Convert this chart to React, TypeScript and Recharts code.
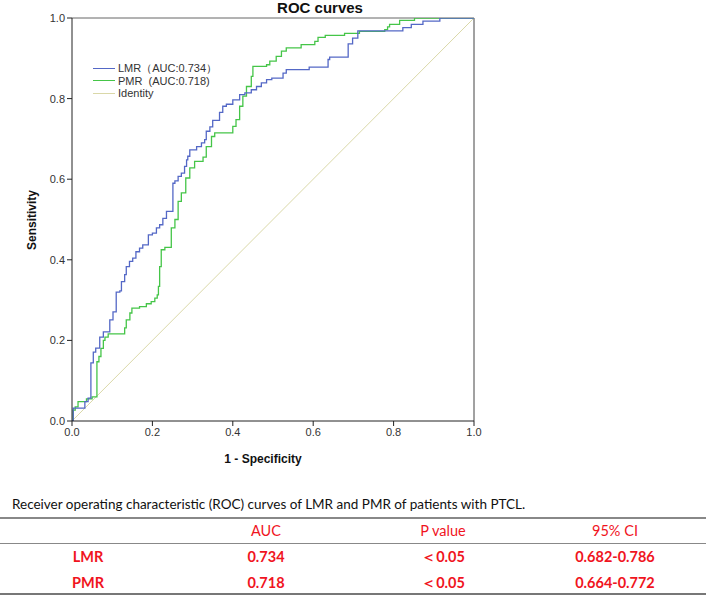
import { LineChart, Line, XAxis, YAxis, ReferenceLine } from "recharts";

const BLUE = "#5468C6";
const GREEN = "#45C548";
const IDENT = "#DAD8A8";
const AXIS = "#222";
const RED = "#F0141E";

// ROC points: 1 - specificity / sensitivity
const lmrX = [0, 0.003, 0.032, 0.04, 0.047, 0.053, 0.059, 0.069, 0.078, 0.094, 0.102, 0.11, 0.119, 0.123, 0.131, 0.135, 0.143, 0.151, 0.159, 0.168, 0.176, 0.19, 0.2, 0.21, 0.218, 0.226, 0.235, 0.251, 0.256, 0.264, 0.272, 0.28, 0.285, 0.288, 0.293, 0.31, 0.322, 0.33, 0.334, 0.343, 0.35, 0.367, 0.375, 0.384, 0.4, 0.417, 0.43, 0.446, 0.459, 0.471, 0.484, 0.497, 0.525, 0.533, 0.59, 0.637, 0.641, 0.687, 0.698, 0.711, 0.823, 0.844, 0.873, 0.915, 1];
const lmrY = [0, 0.032, 0.048, 0.057, 0.144, 0.171, 0.181, 0.208, 0.221, 0.251, 0.271, 0.32, 0.323, 0.346, 0.363, 0.383, 0.396, 0.404, 0.42, 0.429, 0.437, 0.462, 0.466, 0.479, 0.487, 0.503, 0.52, 0.59, 0.596, 0.607, 0.615, 0.632, 0.648, 0.657, 0.673, 0.681, 0.69, 0.698, 0.719, 0.73, 0.746, 0.766, 0.781, 0.786, 0.797, 0.81, 0.814, 0.822, 0.83, 0.839, 0.847, 0.851, 0.863, 0.872, 0.878, 0.897, 0.903, 0.936, 0.95, 0.968, 0.976, 0.984, 0.992, 1, 1];

const pmrX = [0, 0.003, 0.008, 0.015, 0.036, 0.05, 0.062, 0.067, 0.072, 0.078, 0.082, 0.09, 0.131, 0.135, 0.144, 0.149, 0.168, 0.185, 0.197, 0.206, 0.212, 0.215, 0.218, 0.222, 0.231, 0.247, 0.256, 0.264, 0.272, 0.283, 0.293, 0.305, 0.326, 0.334, 0.347, 0.355, 0.4, 0.408, 0.417, 0.425, 0.434, 0.446, 0.45, 0.484, 0.492, 0.508, 0.521, 0.533, 0.57, 0.604, 0.612, 0.63, 0.678, 0.715, 0.778, 0.785, 0.79, 0.815, 0.852, 1];
const pmrY = [0, 0.027, 0.035, 0.048, 0.055, 0.06, 0.147, 0.16, 0.18, 0.2, 0.208, 0.216, 0.231, 0.251, 0.268, 0.28, 0.284, 0.291, 0.296, 0.305, 0.313, 0.334, 0.383, 0.425, 0.431, 0.479, 0.5, 0.545, 0.566, 0.603, 0.628, 0.644, 0.655, 0.681, 0.706, 0.715, 0.731, 0.748, 0.781, 0.806, 0.83, 0.855, 0.88, 0.884, 0.893, 0.905, 0.918, 0.926, 0.934, 0.942, 0.952, 0.957, 0.962, 0.967, 0.971, 0.978, 0.984, 0.994, 1, 1];

const identX = [0, 1];
const identY = [0, 1];

const TICKS = [0, 0.2, 0.4, 0.6, 0.8, 1];

const legendItems = [
  { label: "LMR（AUC:0.734）", color: BLUE },
  { label: "PMR  (AUC:0.718)", color: GREEN },
  { label: "Identity", color: IDENT },
];

const tableTitle = "Receiver operating characteristic (ROC) curves of LMR and PMR of patients with PTCL.";
const tableHeader = ["", "AUC", "P value", "95% CI"];
const tableRows = [
  ["LMR", "0.734", "＜0.05", "0.682-0.786"],
  ["PMR", "0.718", "＜0.05", "0.664-0.772"],
];
const colCenters = [88, 266, 443, 615];

const toPoints = (xs: number[], ys: number[]) => xs.map((x, i) => ({ x, y: ys[i] }));

const FONT = "'Liberation Sans', Arial, sans-serif";
const TABLE_FONT = "Lato, 'Open Sans', sans-serif";

export default function App() {
  const tick = { fontSize: 11, fill: "#333", fontFamily: FONT };
  return (
    <div style={{ position: "relative", width: 706, height: 597, background: "#fff", fontFamily: FONT }}>
      <style>{`body{margin:0}`}</style>

      {/* title */}
      <div style={{ position: "absolute", left: 0, top: 0, width: 640, textAlign: "center", fontSize: 15, lineHeight: "15px", fontWeight: "bold", color: "#111" }}>
        ROC curves
      </div>

      <LineChart width={706} height={480} margin={{ top: 18, right: 232, left: 0, bottom: 29 }}>
        <XAxis
          dataKey="x"
          type="number"
          domain={[0, 1]}
          ticks={TICKS}
          tickFormatter={(v) => Number(v).toFixed(1)}
          tick={tick}
          stroke={AXIS}
          tickSize={5}
          height={30}
          allowDataOverflow
        />
        <YAxis
          dataKey="y"
          type="number"
          domain={[0, 1]}
          ticks={TICKS}
          tickFormatter={(v) => Number(v).toFixed(1)}
          tick={tick}
          stroke={AXIS}
          tickSize={5}
          width={72}
          allowDataOverflow
        />
        <ReferenceLine y={1} stroke="#666" strokeWidth={1} />
        <ReferenceLine x={1} stroke="#444" strokeWidth={1} />
        <Line data={toPoints(identX, identY)} dataKey="y" type="linear" stroke={IDENT} strokeWidth={1}
              dot={false} isAnimationActive={false} name="Identity" />
        <Line data={toPoints(pmrX, pmrY)} dataKey="y" type="stepAfter" stroke={GREEN} strokeWidth={1.3}
              dot={false} isAnimationActive={false} name="PMR" />
        <Line data={toPoints(lmrX, lmrY)} dataKey="y" type="stepAfter" stroke={BLUE} strokeWidth={1.3}
              dot={false} isAnimationActive={false} name="LMR" />
      </LineChart>

      {/* legend inside plot */}
      <div style={{ position: "absolute", left: 93, top: 62, fontSize: 11, color: "#333", lineHeight: "12px", whiteSpace: "pre" }}>
        {legendItems.map((it) => (
          <div key={it.label} style={{ display: "flex", alignItems: "center", height: 12.5 }}>
            <span style={{ display: "inline-block", width: 22, height: 0, borderTop: `1.5px solid ${it.color}`, marginRight: 3 }} />
            <span>{it.label}</span>
          </div>
        ))}
      </div>

      {/* axis titles */}
      <div style={{ position: "absolute", left: 203, top: 452, width: 120, textAlign: "center", fontSize: 12, fontWeight: "bold", color: "#111" }}>
        1 - Specificity
      </div>
      <div style={{ position: "absolute", left: 32, top: 221, width: 0, height: 0 }}>
        <div style={{ position: "absolute", left: -50, top: -8, width: 100, textAlign: "center", fontSize: 12, fontWeight: "bold", color: "#111", transform: "rotate(-90deg)" }}>
          Sensitivity
        </div>
      </div>

      {/* table */}
      <div style={{ position: "absolute", left: 12, top: 496, fontFamily: TABLE_FONT, fontSize: 13.5, color: "#111", whiteSpace: "nowrap" }}>
        {tableTitle}
      </div>
      <div style={{ position: "absolute", left: 0, top: 517, width: 706, borderTop: "2px solid #888" }} />
      <div style={{ position: "absolute", left: 0, top: 543, width: 706, borderTop: "1.5px solid #888" }} />
      <div style={{ position: "absolute", left: 0, top: 593, width: 706, borderTop: "2px solid #777" }} />
      {[tableHeader, ...tableRows].map((row, r) => (
        row.map((cell, c) => (
          <div key={`${r}-${c}`} style={{
            position: "absolute", left: colCenters[c] - 80, width: 160, textAlign: "center",
            top: r === 0 ? 522 : r === 1 ? 548 : 574,
            fontFamily: TABLE_FONT, fontSize: 14.5, color: RED, fontWeight: r === 0 ? "normal" : "bold",
          }}>
            {cell}
          </div>
        ))
      ))}
    </div>
  );
}
